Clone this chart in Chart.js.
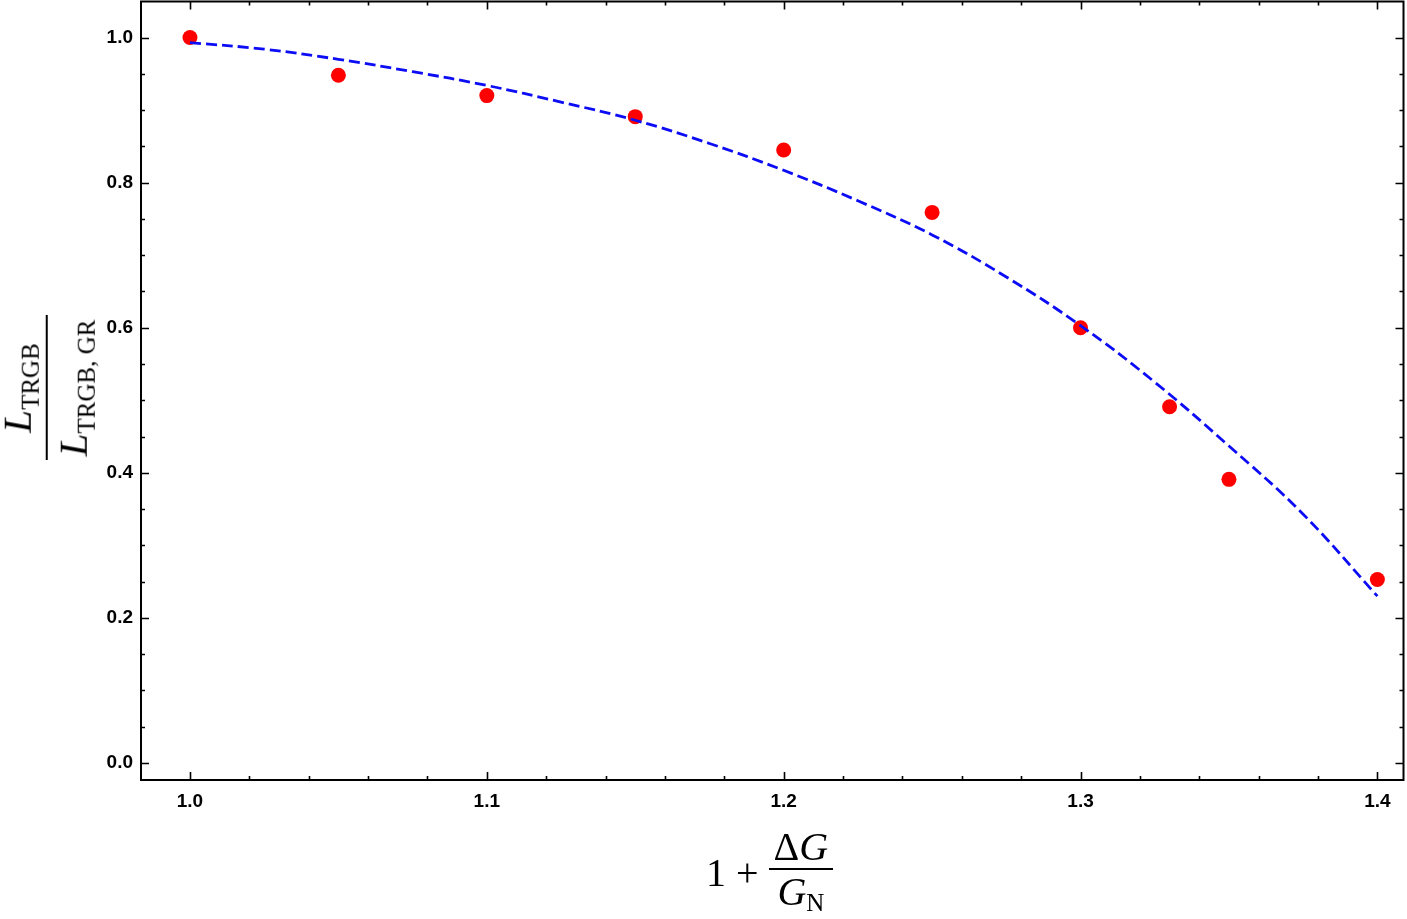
<!DOCTYPE html>
<html>
<head>
<meta charset="utf-8">
<script src="https://cdn.jsdelivr.net/npm/chart.js@4.4.1/dist/chart.umd.min.js"></script>
<style>
  html, body { margin:0; padding:0; background:#fff; overflow:hidden; }
  #wrap { position:relative; width:1407px; height:919px; overflow:hidden; }
  canvas { position:absolute; left:0; top:-6px; }
  .math { position:absolute; font-family:"Liberation Serif","DejaVu Serif",serif; color:#000; white-space:nowrap; }
  .frac { display:inline-flex; flex-direction:column; align-items:center; vertical-align:middle; }
  .bar { height:1.5px; background:#000; align-self:stretch; }
  .sub { position:relative; }
</style>
</head>
<body>
<div id="wrap">
  <canvas id="c" width="1411" height="925"></canvas>
  <div class="math" id="ylab" style="left:48px; top:388px; transform:translate(-50%,-50%) rotate(-90deg);">
    <div class="frac">
      <div style="font-size:41px; line-height:40px; padding:0 4px;"><i>L</i><span class="sub" style="font-size:25px; top:8px;">TRGB</span></div>
      <div class="bar" style="margin:3px 0 4px 0;"></div>
      <div style="font-size:41px; line-height:42px; padding:0 4px;"><i>L</i><span class="sub" style="font-size:25px; top:8px;">TRGB, GR</span></div>
    </div>
  </div>
  <div class="math" id="xlab" style="left:706px; top:826px; font-size:40px;">
    <span style="display:inline-block; vertical-align:middle;">1</span><span style="display:inline-block; vertical-align:middle; margin:0 10px 0 10px;">+</span><div class="frac">
      <div style="line-height:42px; padding:0 5px;">Δ<i>G</i></div>
      <div class="bar"></div>
      <div style="line-height:44px; padding:0 5px;"><i>G</i><span class="sub" style="font-size:25px; top:6px;">N</span></div>
    </div>
  </div>
</div>
<script>
// ---- data ----
const pointX = [1.00, 1.05, 1.10, 1.15, 1.20, 1.25, 1.30, 1.33, 1.35, 1.40];
const pointY = [1.000, 0.948, 0.920, 0.891, 0.845, 0.759, 0.600, 0.491, 0.391, 0.253];

const curveX = [1.000, 1.025, 1.050, 1.075, 1.100, 1.125, 1.150, 1.175, 1.200, 1.225, 1.250, 1.275, 1.300, 1.325, 1.350, 1.375, 1.400];
const curveY = [0.993, 0.984, 0.970, 0.953, 0.934, 0.911, 0.886, 0.854, 0.817, 0.775, 0.728, 0.670, 0.603, 0.525, 0.437, 0.343, 0.230];

const xMajorTicks = [1.0, 1.1, 1.2, 1.3, 1.4];
const yMajorTicks = [0.0, 0.2, 0.4, 0.6, 0.8, 1.0];

const xRange = [0.9835, 1.4088];
const yRange = [-0.0234, 1.0497];

const pts = pointX.map((x, i) => ({ x, y: pointY[i] }));
const crv = curveX.map((x, i) => ({ x, y: curveY[i] }));

const tickFont = { family: '"Liberation Sans", Arial, sans-serif', size: 19, weight: 'bold' };

const framePlugin = {
  id: 'frame',
  afterDraw(chart) {
    const { ctx, chartArea: a, scales } = chart;
    const xs = scales.x, ys = scales.y;
    ctx.save();
    ctx.strokeStyle = '#000';
    ctx.lineWidth = 1.6;
    const xTick = (v, len) => {
      const px = Math.round(xs.getPixelForValue(v)) + 0.5;
      ctx.beginPath();
      ctx.moveTo(px, a.bottom); ctx.lineTo(px, a.bottom - len);
      ctx.moveTo(px, a.top); ctx.lineTo(px, a.top + len);
      ctx.stroke();
    };
    const yTick = (v, len) => {
      const py = Math.round(ys.getPixelForValue(v)) + 0.5;
      ctx.beginPath();
      ctx.moveTo(a.left, py); ctx.lineTo(a.left + len, py);
      ctx.moveTo(a.right, py); ctx.lineTo(a.right - len, py);
      ctx.stroke();
    };
    for (let k = 50; k <= 70; k++) {
      const v = k * 0.02;
      if (v < xRange[0] || v > xRange[1]) continue;
      xTick(v, k % 5 === 0 ? 8 : 4);
    }
    for (let k = 0; k <= 20; k++) {
      yTick(k * 0.05, k % 4 === 0 ? 8 : 4);
    }
    ctx.lineWidth = 2;
    ctx.strokeRect(a.left, a.top, a.right - a.left, a.bottom - a.top);
    ctx.restore();
  }
};

new Chart(document.getElementById('c'), {
  type: 'scatter',
  data: {
    datasets: [
      {
        label: 'fit',
        data: crv,
        showLine: true,
        borderColor: '#0c0cf5',
        borderWidth: 2.8,
        borderDash: [11, 5],
        pointRadius: 0,
        tension: 0.4,
        fill: false,
        order: 0
      },
      {
        label: 'data',
        data: pts,
        pointRadius: 7.5,
        pointBackgroundColor: '#ff0000',
        pointBorderWidth: 0,
        backgroundColor: '#ff0000',
        borderColor: '#ff0000',
        order: 1
      }
    ]
  },
  options: {
    responsive: false,
    animation: false,
    devicePixelRatio: 1,
    layout: { padding: { top: 1, right: 4, left: 0, bottom: 0 } },
    plugins: { legend: { display: false }, tooltip: { enabled: false } },
    scales: {
      x: {
        type: 'linear',
        min: xRange[0], max: xRange[1],
        afterFit: s => { s.height = 139; s.paddingLeft = 0; s.paddingRight = 0; },
        afterBuildTicks: s => { s.ticks = xMajorTicks.map(v => ({ value: v })); },
        grid: { display: false, drawTicks: false },
        border: { display: false },
        ticks: { font: tickFont, color: '#000', padding: 10, maxRotation: 0, autoSkip: false,
                 callback: v => Number(v).toFixed(1) }
      },
      y: {
        type: 'linear',
        min: yRange[0], max: yRange[1],
        afterFit: s => { s.width = 141; s.paddingTop = 0; s.paddingBottom = 0; },
        afterBuildTicks: s => { s.ticks = yMajorTicks.map(v => ({ value: v })); },
        grid: { display: false, drawTicks: false },
        border: { display: false },
        ticks: { font: tickFont, color: '#000', padding: 8, autoSkip: false,
                 callback: v => Number(v).toFixed(1) }
      }
    }
  },
  plugins: [framePlugin]
});
</script>
</body>
</html>
